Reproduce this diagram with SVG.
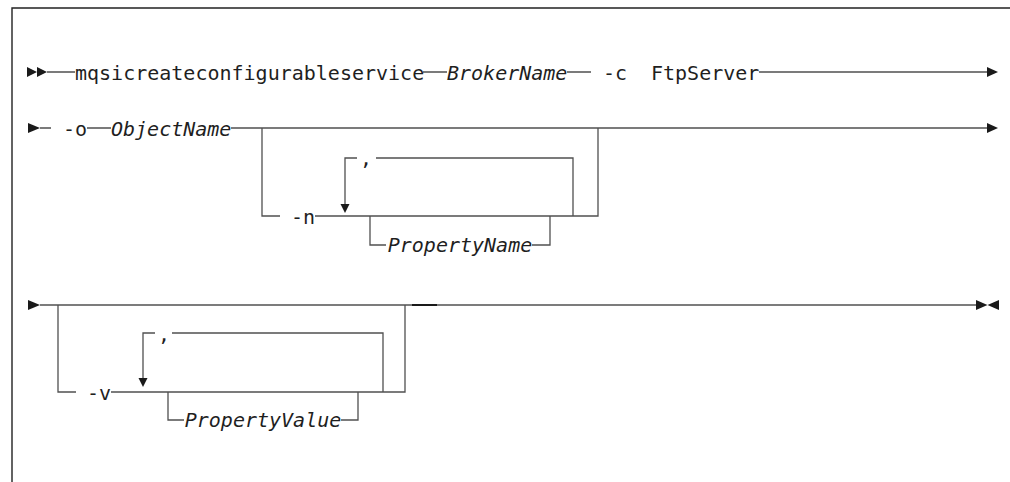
<svg xmlns="http://www.w3.org/2000/svg" width="1010" height="482" viewBox="0 0 1010 482">
<style>
.t{font-family:"DejaVu Sans Mono","Liberation Mono",monospace;font-size:20px;fill:#1f1f1f}
.i{font-style:italic}
.l{stroke:#505050;stroke-width:1.3;fill:none}
.a{fill:#1a1a1a;stroke:none}
.f{stroke:#222;stroke-width:1.4;fill:none}
</style>
<rect width="1010" height="482" fill="#fff"/>
<path class="f" d="M12,482 V8 H1010"/>
<g id="connectors">
  <!-- row 1 -->
  <polygon class="a" points="27,67 37,72 27,77"/>
  <polygon class="a" points="37,67 47,72 37,77"/>
  <path class="l" d="M47,72 H75 M423,72 H447 M567,72 H591 M759,72 H988"/>
  <polygon class="a" points="987,67 998,72 987,77"/>
  <!-- row 2 -->
  <polygon class="a" points="28,123 40,128 28,133"/>
  <path class="l" d="M40,128 H51 M87,128 H111 M231,128 H988"/>
  <polygon class="a" points="987,123 998,128 987,133"/>
  <path class="l" d="M262,128 V216 H280 M315,216 H598 V128"/>
  <path class="l" d="M573,216 V158 H376 M357,158 H345 V205"/>
  <polygon class="a" points="340.5,204 349.5,204 345,213"/>
  <path class="l" d="M370,216 V245 H386 M532,245 H550 V216"/>
  <!-- row 3 -->
  <polygon class="a" points="28,300 40,305 28,310"/>
  <path class="l" d="M40,305 H977"/>
  <path d="M412,305 H437" stroke="#1a1a1a" stroke-width="2"/>
  <polygon class="a" points="976,300 987.5,305 976,310"/>
  <polygon class="a" points="999,300 987.5,305 999,310"/>
  <path class="l" d="M58,305 V392 H76 M111,392 H405 V305"/>
  <path class="l" d="M383,392 V333 H172 M155,333 H143 V379"/>
  <polygon class="a" points="138.5,378 147.5,378 143,387"/>
  <path class="l" d="M168,392 V420 H184 M341,420 H358 V392"/>
</g>
<g id="cmd"><text class="t" x="75" y="80">mqsicreateconfigurableservice</text></g>
<g id="broker"><text class="t i" x="447" y="80">BrokerName</text></g>
<g id="opt-c"><text class="t" x="603" y="80">-c</text></g>
<g id="ftp"><text class="t" x="651" y="80">FtpServer</text></g>
<g id="opt-o"><text class="t" x="63" y="136">-o</text></g>
<g id="object"><text class="t i" x="111" y="136">ObjectName</text></g>
<g id="opt-n"><text class="t" x="291" y="224">-n</text></g>
<g id="comma-n"><text class="t" x="366" y="165" text-anchor="middle">,</text></g>
<g id="propname"><text class="t i" x="460" y="252" text-anchor="middle">PropertyName</text></g>
<g id="opt-v"><text class="t" x="87" y="400">-v</text></g>
<g id="comma-v"><text class="t" x="164" y="341" text-anchor="middle">,</text></g>
<g id="propvalue"><text class="t i" x="263" y="427" text-anchor="middle">PropertyValue</text></g>
</svg>
